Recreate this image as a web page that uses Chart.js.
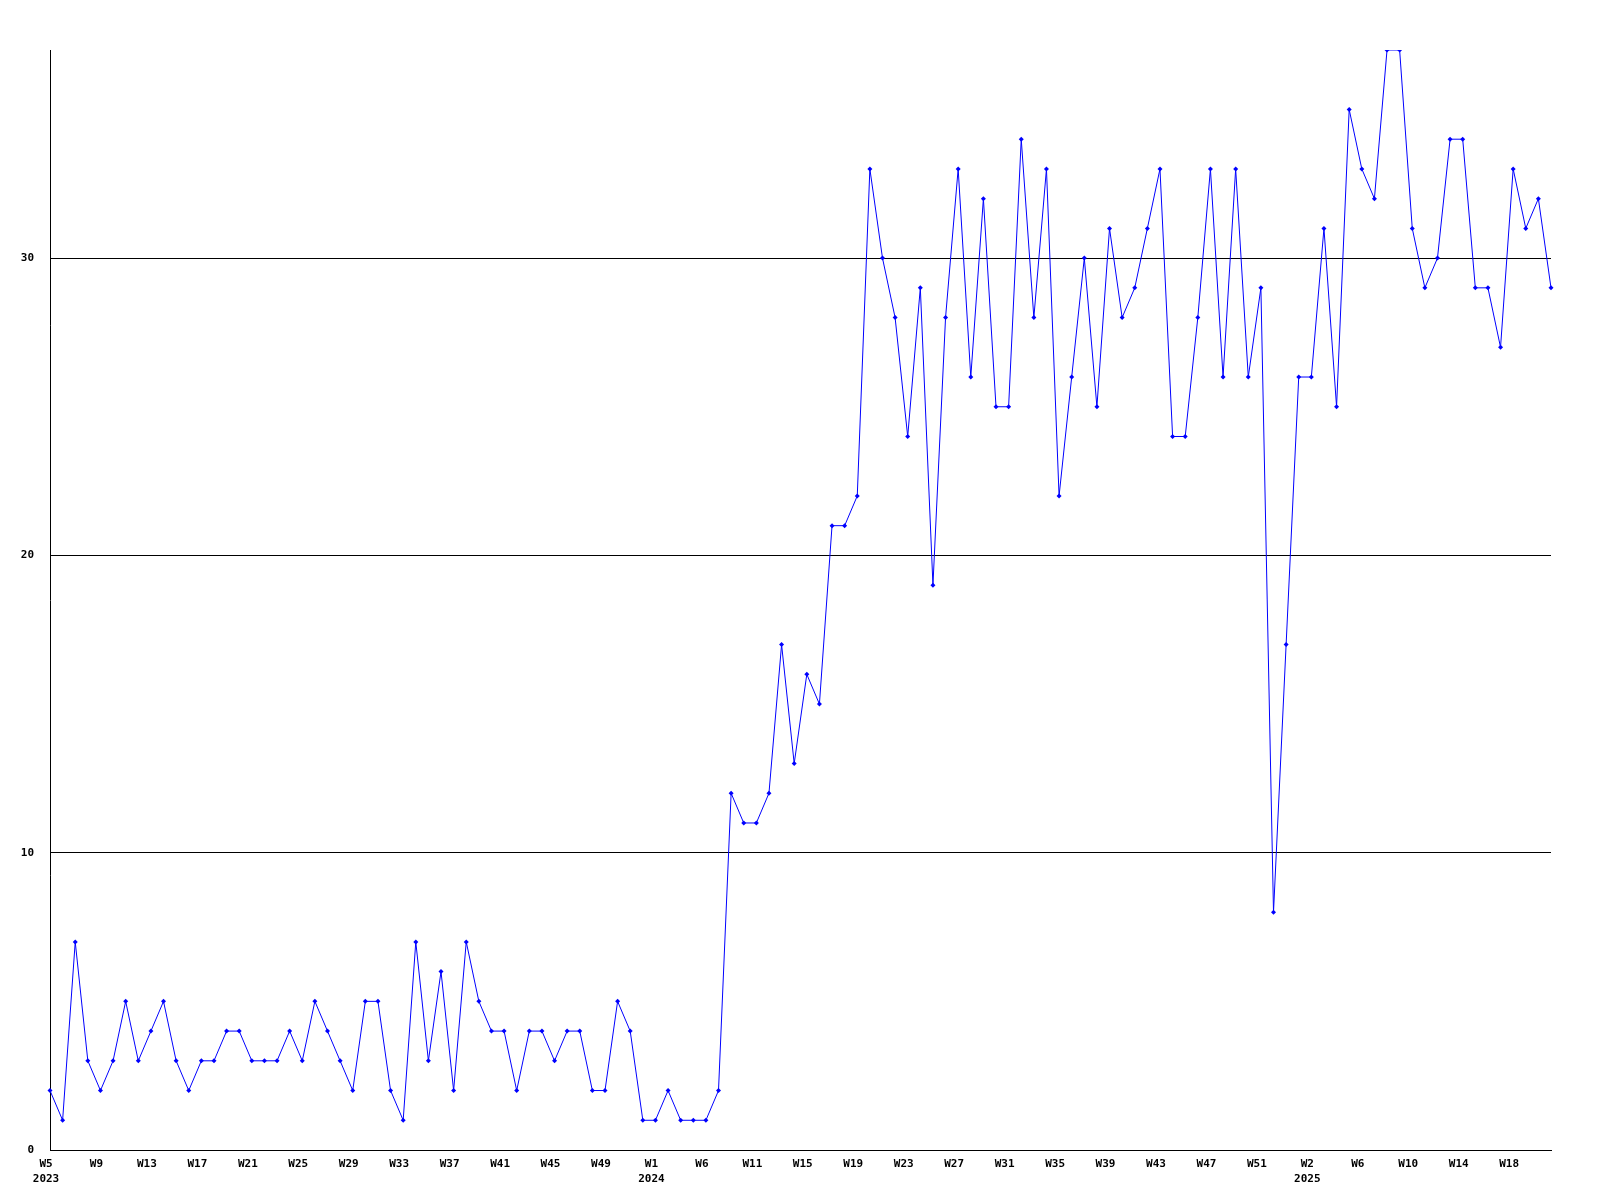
<!DOCTYPE html>
<html>
<head>
<meta charset="utf-8">
<script src="https://cdn.jsdelivr.net/npm/chart.js@4/dist/chart.umd.min.js"></script>
<style>
  html, body { margin: 0; padding: 0; background: #ffffff; }
  #wrap { width: 1600px; height: 1200px; }
</style>
</head>
<body>
<div id="wrap"><canvas id="c" width="1600" height="1200"></canvas></div>
<script>
// Weekly values, 2023 W5 .. 2025 (120 weeks)
const values2023 = [2,1,7,3,2,3,5,3,4,5,3,2,3,3,4,4,3,3,3,4,3,5,4,3,2,5,5,2,1,7,3,6,2,7,5,4,4,2,4,4,3,4,4,2,2,5,4,1];
const values2024a = [1,2,1,1,1,2,12,11,11,12,17,13,16,15];
const values2024b = [21,21,22,33,30,28,24,29,19,28,33,26,32,25,25,34,28,33,22,26,30,25,31,28,29,31,33,24];
const values2025 = [24,28,33,26,33,26,29,8,17,26,26,31,25,35,33,32,37,37,31,29,30,34,34,29,29,27,33,31,32,29];

// Tick labels shown every 4th week
const tickLabels = ['W5','W9','W13','W17','W21','W25','W29','W33','W37','W41','W45','W49',
  'W1','W6','W11','W15','W19','W23','W27','W31','W35','W39','W43','W47','W51',
  'W2','W6','W10','W14','W18'];
const yearLabels = { 0: '2023', 12: '2024', 25: '2025' }; // keyed by tick label position
const yTickValues = [0, 10, 20, 30];
const yMax = 37;

const values = [].concat(values2023, values2024a, values2024b, values2025);
const categories = values.map((v, i) => {
  if (i % 4 !== 0) return '';
  const k = i / 4;
  const w = tickLabels[k] || '';
  return yearLabels[k] ? [w, yearLabels[k]] : w;
});

const FONT = { family: '"DejaVu Sans Mono", "Liberation Mono", monospace', size: 11, weight: 'bold', lineHeight: 1.35 };

new Chart(document.getElementById('c'), {
  type: 'line',
  data: {
    labels: categories,
    datasets: [{
      data: values,
      borderColor: '#0000ff',
      backgroundColor: '#0000ff',
      borderWidth: 1,
      tension: 0,
      fill: false,
      pointStyle: 'rectRot',
      pointRadius: 2.5,
      pointBorderWidth: 0,
      pointBackgroundColor: '#0000ff'
    }]
  },
  options: {
    responsive: false,
    animation: false,
    layout: { padding: { left: 0, right: 49, top: 50, bottom: 0 } },
    plugins: { legend: { display: false }, tooltip: { enabled: false } },
    scales: {
      x: {
        type: 'category',
        offset: false,
        grid: { display: false, drawTicks: false },
        border: { display: true, color: '#000000', width: 1 },
        ticks: {
          autoSkip: false,
          maxRotation: 0,
          minRotation: 0,
          padding: 7,
          labelOffset: -4,
          color: '#000000',
          font: FONT,
          callback: function(value, index) { return categories[index]; }
        },
        afterFit: function(scale) { scale.height = 50; }
      },
      y: {
        min: 0,
        max: yMax,
        grid: { color: '#000000', lineWidth: 1, drawTicks: false },
        border: { display: true, color: '#000000', width: 1 },
        ticks: {
          stepSize: 10,
          padding: 16,
          color: '#000000',
          font: FONT
        },
        afterBuildTicks: function(axis) {
          axis.ticks = yTickValues.map(v => ({ value: v }));
        },
        afterFit: function(scale) { scale.width = 50; }
      }
    }
  }
});
</script>
</body>
</html>
